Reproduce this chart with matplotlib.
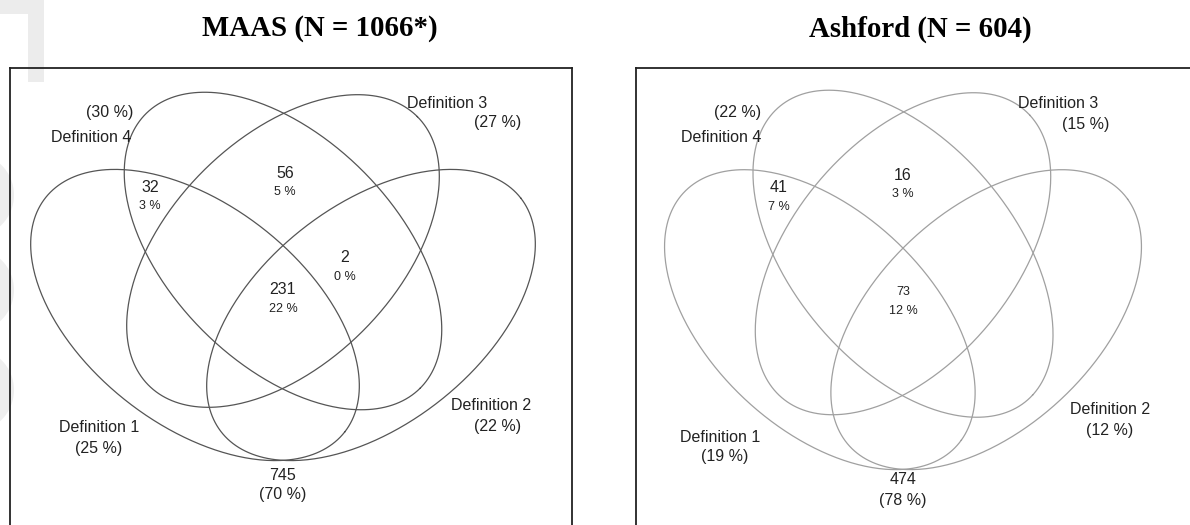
import numpy as np
import matplotlib.pyplot as plt
from matplotlib.patches import Rectangle

# values
titles = ['MAAS (N = 1066*)', 'Ashford (N = 604)']
definitions = ['Definition 1', 'Definition 2', 'Definition 3', 'Definition 4']
maas_def_pct = [25, 22, 27, 30]
ashford_def_pct = [19, 12, 15, 22]

regions = ['1&4', '3&4', '2&3&4', '1&2&3&4']
maas_counts = [32, 56, 2, 231]
maas_pcts = [3, 5, 0, 22]
ashford_counts = [41, 16, None, 73]
ashford_pcts = [7, 3, None, 12]

maas_none = 745
maas_none_pct = 70
ashford_none = 474
ashford_none_pct = 78

# venn layout (pixels, relative to the diagram centre, y pointing down)
ELLIPSES = {
    'Definition 1': ((-88, 55), 190, 110, 38),
    'Definition 2': ((88, 55), 190, 110, -38),
    'Definition 3': ((0, -9), 190, 113, -45),
    'Definition 4': ((0, -9), 194, 113, 45),
}

# label positions in figure pixels: (name, pct) for each definition
CAT_POS = [
    {'Definition 1': ((99, 428), (99, 448)),
     'Definition 2': ((491, 406), (498, 426)),
     'Definition 3': ((447, 103), (498, 123)),
     'Definition 4': ((91, 137), (110, 112))},
    {'Definition 1': ((720, 438), (725, 457)),
     'Definition 2': ((1110, 409), (1110, 430)),
     'Definition 3': ((1058, 104), (1086, 124)),
     'Definition 4': ((721, 137), (738, 112))},
]
REGION_POS = [
    {'1&4': (150, 187), '3&4': (285, 173), '2&3&4': (345, 258), '1&2&3&4': (283, 290)},
    {'1&4': (779, 188), '3&4': (903, 175), '2&3&4': (963, 258), '1&2&3&4': (903, 292)},
]
NONE_POS = [(283, 475), (903, 480)]


def draw_panel(ax, k, centre, sx, sy, def_pct, counts, pcts, none, none_pct,
               line_col, small_all=False):
    cx, cy = centre
    t = np.linspace(0, 2 * np.pi, 400)
    for name in definitions:
        (ex, ey), a, b, ang = ELLIPSES[name]
        th = np.deg2rad(ang)
        x = ex + a * np.cos(t) * np.cos(th) - b * np.sin(t) * np.sin(th)
        y = ey + a * np.cos(t) * np.sin(th) + b * np.sin(t) * np.cos(th)
        ax.plot(cx + sx * x, cy + sy * y, color=line_col, lw=0.9)

    txt = dict(ha='center', va='center', color='#222222', family='Liberation Sans')
    for name, pct in zip(definitions, def_pct):
        (lx, ly), (px, py) = CAT_POS[k][name]
        ax.text(lx, ly, name, fontsize=11.5, **txt)
        ax.text(px, py, f'({pct} %)', fontsize=11.5, **txt)

    for reg, n, p in zip(regions, counts, pcts):
        if n is None:
            continue
        rx, ry = REGION_POS[k][reg]
        big = 9 if (small_all and reg == '1&2&3&4') else 11.5
        ax.text(rx, ry, str(n), fontsize=big, **txt)
        ax.text(rx, ry + 19, f'{p} %', fontsize=9, **txt)

    nx, ny = NONE_POS[k]
    ax.text(nx, ny, str(none), fontsize=11.5, **txt)
    ax.text(nx, ny + 20, f'({none_pct} %)', fontsize=11.5, **txt)


def main():
    W, H = 1190, 525
    fig = plt.figure(figsize=(W / 100, H / 100), dpi=100)

    # faint watermark at the left edge
    bg = fig.add_axes([0, 0, 1, 1])
    bg.set_xlim(0, W)
    bg.set_ylim(H, 0)
    bg.axis('off')
    bg.add_patch(Rectangle((28, 0), 16, 82, color='#ececec', lw=0))
    bg.add_patch(Rectangle((0, 0), 28, 14, color='#ececec', lw=0))
    for yc in (195, 290, 390):
        bg.add_patch(plt.Circle((-28, yc), 42, color='#eeeeee', lw=0))

    boxes = [(10, 572), (636, 1190)]
    centres = [(283, 260), (903, 263)]
    scales = [(1.0, 1.0), (0.945, 1.03)]
    title_x = [320, 920]
    data = [
        (maas_def_pct, maas_counts, maas_pcts, maas_none, maas_none_pct, '#555555', False),
        (ashford_def_pct, ashford_counts, ashford_pcts, ashford_none, ashford_none_pct, '#a0a0a0', True),
    ]
    for k in range(2):
        x0, x1 = boxes[k]
        sx, sy = scales[k]
        ax = fig.add_axes([x0 / W, 0, (x1 - x0) / W, (H - 68) / H])
        ax.set_xlim(x0, x1)
        ax.set_ylim(H, 68)
        ax.set_xticks([])
        ax.set_yticks([])
        ax.patch.set_alpha(0)
        ax.spines['bottom'].set_visible(False)
        if k == 1:
            ax.spines['right'].set_visible(False)
        for s in ax.spines.values():
            s.set_linewidth(1.3)
            s.set_color('#222222')
        def_pct, counts, pcts, none, none_pct, col, small = data[k]
        draw_panel(ax, k, centres[k], sx, sy, def_pct, counts, pcts, none, none_pct, col, small)
        fig.text(title_x[k] / W, 1 - 29 / H, titles[k], ha='center', va='center',
                 fontsize=20.8, fontweight='bold', family='Liberation Serif')

    fig.savefig('out.png', dpi=100)


if __name__ == '__main__':
    main()
